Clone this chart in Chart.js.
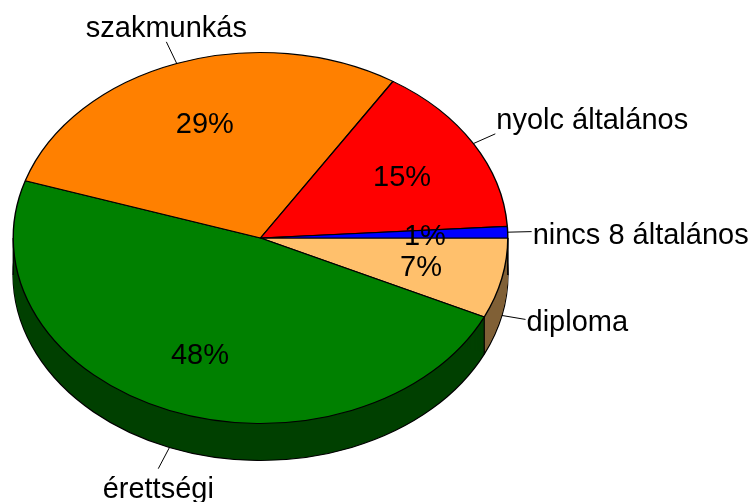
<!DOCTYPE html>
<html>
<head>
<meta charset="utf-8">
<script src="https://cdn.jsdelivr.net/npm/chart.js@4/dist/chart.umd.min.js"></script>
<style>
  html, body { margin: 0; padding: 0; background: #fff; }
  canvas { display: block; }
</style>
</head>
<body>
<canvas id="pie" width="754" height="502"></canvas>
<script>
// data, clockwise from 3 o'clock
const categories = ['diploma', 'érettségi', 'szakmunkás', 'nyolc általános', 'nincs 8 általános'];
const shares = [7, 48, 29, 15, 1];

// colours: top face and the darker side wall
const topColors = ['#FFC06C', '#008000', '#FF8000', '#FF0000', '#0000FF'];
const sideColors = ['#806036', '#004000', '#804000', '#800000', '#000080'];

// 3d look
const TILT = 0.75;      // vertical squash of the disc
const DEPTH = 37;       // wall height in px
const CENTER_Y = 238;   // where the squashed disc centre lands
const FONT = '29px "Liberation Sans", Arial, sans-serif';

const total = shares.reduce((a, b) => a + b, 0);
const midAngle = arc => (arc.startAngle + arc.endAngle) / 2;

function withOptions(arc, extra, fn) {
    const o = arc.options;
    arc.options = Object.assign({}, o, extra);
    fn();
    arc.options = o;
}

const pie3d = {
    id: 'pie3d',
    beforeDatasetsDraw(chart) {
        const ctx = chart.ctx;
        const arcs = chart.getDatasetMeta(0).data;
        const cx = arcs[0].x, cy0 = arcs[0].y, R = arcs[0].outerRadius;
        const lift = CENTER_Y - TILT * cy0;

        const layer = (arc, i, k, border) => {
            ctx.save();
            ctx.translate(0, lift + k);
            ctx.scale(1, TILT);
            withOptions(arc, {
                backgroundColor: sideColors[i],
                borderColor: '#000',
                borderWidth: border
            }, () => arc.draw(ctx));
            ctx.restore();
        };

        // outlined floor of the disc first
        arcs.forEach((arc, i) => layer(arc, i, DEPTH, 1.6));

        // wall: each slice swept downwards, back slices first
        const order = arcs.map((a, i) => i)
            .sort((a, b) => Math.sin(midAngle(arcs[a])) - Math.sin(midAngle(arcs[b])));
        order.forEach(i => {
            for (let k = 1; k < DEPTH; k++) layer(arcs[i], i, k, 0);
        });

        // vertical edges of the wall
        const angles = [0, Math.PI];
        arcs.forEach(a => angles.push(a.startAngle));
        ctx.save();
        ctx.strokeStyle = '#000';
        ctx.lineWidth = 1.2;
        angles.forEach(a => {
            if (Math.sin(a) < -1e-6) return;
            const x = cx + R * Math.cos(a);
            const y = lift + TILT * (cy0 + R * Math.sin(a));
            ctx.beginPath();
            ctx.moveTo(x, y);
            ctx.lineTo(x, y + DEPTH);
            ctx.stroke();
        });
        ctx.restore();

        // top face
        ctx.save();
        ctx.translate(0, lift);
        ctx.scale(1, TILT);
        arcs.forEach(arc => arc.draw(ctx));
        ctx.restore();
        return false;
    },
    afterDraw(chart) {
        const ctx = chart.ctx;
        const arcs = chart.getDatasetMeta(0).data;
        const cx = arcs[0].x, cy0 = arcs[0].y, R = arcs[0].outerRadius;
        const lift = CENTER_Y - TILT * cy0;
        const at = (a, f) => ({
            x: cx + R * f * Math.cos(a),
            y: lift + TILT * (cy0 + R * f * Math.sin(a))
        });

        ctx.save();
        ctx.font = FONT;
        ctx.fillStyle = '#000';
        ctx.strokeStyle = '#000';
        ctx.lineWidth = 1;

        arcs.forEach((arc, i) => {
            const mid = midAngle(arc);
            const c = Math.cos(mid), s = Math.sin(mid);

            // percentage inside the slice
            const p = at(mid, 0.665);
            ctx.textAlign = 'center';
            ctx.fillText(Math.round(shares[i] / total * 100) + '%', p.x, p.y + 11);

            // leader line and category name
            const e = at(mid, 1);
            if (s > 0) e.y += DEPTH;
            let dx = c, dy = TILT * s;
            const len = Math.hypot(dx, dy);
            dx /= len; dy /= len;
            const end = { x: e.x + 24 * dx, y: e.y + 24 * dy };
            ctx.beginPath();
            ctx.moveTo(e.x, e.y);
            ctx.lineTo(end.x, end.y);
            ctx.stroke();

            let tx = end.x, ty = end.y;
            if (Math.abs(c) < 0.5) {
                ctx.textAlign = 'center';
                ty += s < 0 ? -17 : 17;
            } else {
                ctx.textAlign = c > 0 ? 'left' : 'right';
                tx += c > 0 ? 1 : -1;
                if (Math.abs(s) >= 0.3) ty += s < 0 ? -17 : 17;
            }
            ctx.fillText(categories[i], tx, ty + 12);
        });
        ctx.restore();
    }
};

new Chart(document.getElementById('pie').getContext('2d'), {
    type: 'pie',
    data: {
        labels: categories,
        datasets: [{
            data: shares,
            backgroundColor: topColors,
            borderColor: '#000',
            borderWidth: 1.4
        }]
    },
    options: {
        responsive: false,
        animation: false,
        events: [],
        rotation: 90,
        layout: { padding: { left: 12.5, right: 245.5, top: 3, bottom: 3 } },
        plugins: {
            legend: { display: false },
            tooltip: { enabled: false }
        }
    },
    plugins: [pie3d]
});
</script>
</body>
</html>
